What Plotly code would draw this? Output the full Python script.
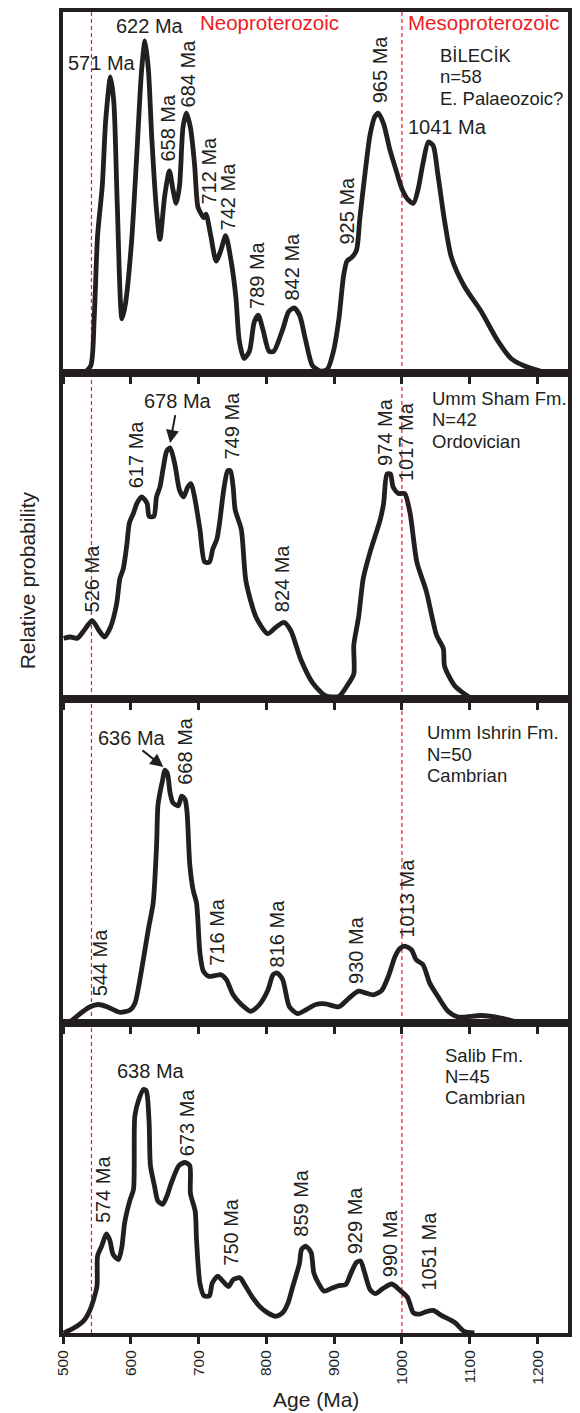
import plotly.graph_objects as go

# ---------------- data ----------------
AGE_TICKS = [500, 600, 700, 800, 900, 1000, 1100, 1200]
BOUNDARIES = [542, 1000]

# Panel 1: BİLECİK
p1_age = [531,541,546,551,558,563,570,575,580,587,592,601,609,616,621,626,631,638,643,650,657,662,667,672,677,682,688,694,699,704,708,711,718,726,733,740,748,755,760,767,775,782,788,795,804,811,824,833,841,849,858,868,880,890,899,907,914,919,926,933,938,946,953,960,965,973,982,990,1000,1009,1017,1024,1031,1039,1046,1053,1063,1073,1092,1117,1141,1161,1180,1210]
p1_prob = [0,0.02,0.15,0.38,0.52,0.70,0.82,0.75,0.47,0.15,0.19,0.36,0.61,0.84,0.92,0.84,0.65,0.45,0.37,0.49,0.56,0.51,0.47,0.52,0.68,0.72,0.68,0.58,0.46,0.44,0.43,0.44,0.38,0.31,0.34,0.38,0.31,0.21,0.09,0.04,0.06,0.14,0.16,0.12,0.06,0.06,0.12,0.17,0.18,0.16,0.09,0.02,0.005,0.01,0.06,0.15,0.27,0.31,0.32,0.34,0.43,0.56,0.66,0.71,0.72,0.69,0.62,0.57,0.51,0.48,0.47,0.51,0.58,0.64,0.63,0.55,0.42,0.32,0.24,0.17,0.09,0.04,0.02,0.002]

# Panel 2: Umm Sham Fm.
p2_age = [501,511,521,531,543,553,561,570,579,584,589,594,598,604,609,616,624,627,634,638,643,648,653,658,665,672,678,684,689,694,702,709,716,721,727,731,737,743,747,751,754,763,770,785,802,814,826,836,851,868,887,907,919,929,929,936,943,953,968,973,978,983,987,995,1004,1012,1022,1036,1051,1061,1063,1078,1100,1107]
p2_prob = [0.186,0.19,0.186,0.21,0.24,0.21,0.19,0.22,0.29,0.37,0.40,0.47,0.54,0.57,0.60,0.62,0.60,0.56,0.56,0.62,0.65,0.71,0.76,0.77,0.72,0.64,0.62,0.65,0.66,0.62,0.52,0.42,0.42,0.46,0.49,0.54,0.64,0.70,0.70,0.65,0.58,0.52,0.36,0.25,0.20,0.22,0.235,0.21,0.12,0.05,0.01,0.008,0.04,0.077,0.165,0.25,0.37,0.45,0.55,0.60,0.69,0.69,0.65,0.63,0.63,0.57,0.42,0.33,0.196,0.155,0.10,0.04,0.005,0]

# Panel 3: Umm Ishrin Fm.
p3_age = [503,511,526,540,552,565,584,599,606,616,626,633,638,640,643,647,650,654,658,662,670,675,680,683,687,692,697,702,707,715,724,733,741,751,763,777,790,802,810,816,824,834,846,858,873,887,907,922,936,946,958,970,980,990,997,1004,1014,1021,1031,1041,1053,1068,1083,1117,1146,1175]
p3_prob = [0,0.005,0.03,0.05,0.057,0.05,0.033,0.04,0.06,0.165,0.29,0.37,0.545,0.67,0.71,0.75,0.78,0.77,0.71,0.68,0.67,0.70,0.69,0.65,0.49,0.41,0.37,0.216,0.16,0.144,0.146,0.149,0.134,0.087,0.057,0.036,0.057,0.10,0.149,0.154,0.134,0.05,0.029,0.04,0.057,0.059,0.05,0.077,0.098,0.093,0.087,0.10,0.144,0.206,0.23,0.237,0.226,0.195,0.18,0.123,0.082,0.036,0.0185,0.023,0.015,0]

# Panel 4: Salib Fm.
p4_age = [501,516,530,540,550,551,557,564,569,574,582,587,591,599,604,606,612,619,623,627,629,635,640,647,653,660,671,680,687,688,695,697,702,708,716,720,728,734,744,751,761,768,778,790,802,814,824,832,839,849,852,858,866,870,877,885,897,907,917,925,933,939,945,953,961,973,985,997,1008,1017,1026,1036,1046,1058,1078,1092,1107]
p4_prob = [0,0.016,0.038,0.075,0.15,0.248,0.28,0.32,0.30,0.253,0.237,0.28,0.356,0.43,0.463,0.70,0.754,0.786,0.78,0.68,0.54,0.474,0.426,0.415,0.44,0.485,0.54,0.55,0.54,0.45,0.393,0.30,0.16,0.12,0.12,0.16,0.183,0.172,0.15,0.172,0.178,0.156,0.12,0.086,0.065,0.054,0.065,0.097,0.15,0.226,0.27,0.28,0.26,0.194,0.16,0.135,0.145,0.153,0.156,0.194,0.228,0.232,0.194,0.14,0.127,0.145,0.158,0.138,0.116,0.065,0.061,0.069,0.073,0.057,0.034,0.005,0]

# Peak labels (vertical)
p1_vlab = ["658 Ma", "684 Ma", "712 Ma", "742 Ma", "789 Ma", "842 Ma", "925 Ma", "965 Ma"]
p1_vlab_x = [655, 684.5, 715, 744, 787, 838, 919, 967]
p1_vlab_y = [0.68, 0.83, 0.56, 0.49, 0.27, 0.295, 0.45, 0.84]
# Peak labels (horizontal)
p1_hlab = ["571 Ma", "622 Ma", "1041 Ma"]
p1_hlab_x = [557, 628, 1067]
p1_hlab_y = [0.86, 0.96, 0.68]

p2_vlab = ["526 Ma", "617 Ma", "749 Ma", "824 Ma", "974 Ma", "1017 Ma"]
p2_vlab_x = [543, 609, 750, 823, 974, 1007]
p2_vlab_y = [0.37, 0.75, 0.84, 0.37, 0.82, 0.79]
p2_hlab = ["678 Ma"]
p2_hlab_x = [669]
p2_hlab_y = [0.915]

p3_vlab = ["544 Ma", "668 Ma", "716 Ma", "816 Ma", "930 Ma", "1013 Ma"]
p3_vlab_x = [555, 680, 728, 816, 933, 1007]
p3_vlab_y = [0.188, 0.84, 0.28, 0.277, 0.224, 0.386]
p3_hlab = ["636 Ma"]
p3_hlab_x = [602.5]
p3_hlab_y = [0.88]

p4_vlab = ["574 Ma", "673 Ma", "750 Ma", "859 Ma", "929 Ma", "990 Ma", "1051 Ma"]
p4_vlab_x = [560, 683, 748, 851, 931, 982.5, 1040]
p4_vlab_y = [0.463, 0.68, 0.327, 0.42, 0.364, 0.29, 0.263]
p4_hlab = ["638 Ma"]
p4_hlab_x = [630]
p4_hlab_y = [0.846]

# Sample info
p1_info = ["BİLECİK", "n=58", "E. Palaeozoic?"]
p2_info = ["Umm Sham Fm.", "N=42", "Ordovician"]
p3_info = ["Umm Ishrin Fm.", "N=50", "Cambrian"]
p4_info = ["Salib Fm.", "N=45", "Cambrian"]
info_x = [1053, 1041, 1034, 1061]
info_y = [[0.88, 0.82, 0.76], [0.92, 0.856, 0.79], [0.895, 0.83, 0.764], [0.894, 0.828, 0.758]]

era_labels = ["Neoproterozoic", "Mesoproterozoic"]
era_x = [805, 1121]
era_y = [0.97, 0.97]

# arrows (head age, head prob, tail age, tail prob)
p2_arrow = [658, 0.785, 666, 0.875]
p3_arrow = [648, 0.79, 615, 0.845]

# ---------------- figure ----------------
INK = "#231f20"
RED = "#ed1c24"
FONT = "Liberation Sans, Arial, sans-serif"

domains = [[0.7268, 1.0], [0.48, 0.7268], [0.2347, 0.48], [0.0, 0.2347]]
ages = [p1_age, p2_age, p3_age, p4_age]
probs = [p1_prob, p2_prob, p3_prob, p4_prob]
vlabs = [(p1_vlab, p1_vlab_x, p1_vlab_y), (p2_vlab, p2_vlab_x, p2_vlab_y),
         (p3_vlab, p3_vlab_x, p3_vlab_y), (p4_vlab, p4_vlab_x, p4_vlab_y)]
hlabs = [(p1_hlab, p1_hlab_x, p1_hlab_y), (p2_hlab, p2_hlab_x, p2_hlab_y),
         (p3_hlab, p3_hlab_x, p3_hlab_y), (p4_hlab, p4_hlab_x, p4_hlab_y)]
infos = [p1_info, p2_info, p3_info, p4_info]

fig = go.Figure()
annotations = []
shapes = []
layout = {}

for i in range(4):
    n = i + 1
    xs = "x" if n == 1 else f"x{n}"
    ys = "y" if n == 1 else f"y{n}"
    fig.add_trace(go.Scatter(
        x=ages[i], y=probs[i], mode="lines", xaxis=xs, yaxis=ys,
        line=dict(color=INK, width=4.8, shape="spline", smoothing=0.7),
        showlegend=False, hoverinfo="skip"))
    layout[f"xaxis{'' if n == 1 else n}"] = dict(
        domain=[0, 1], anchor=ys, range=[500, 1245], showline=True, mirror=True,
        linewidth=4, linecolor=INK, ticks="outside", ticklen=7, tickwidth=2.5,
        tickcolor=INK, tickvals=AGE_TICKS, showticklabels=(n == 4), tickangle=-90,
        tickfont=dict(size=15.5, color=INK, family=FONT), showgrid=False, zeroline=False)
    layout[f"yaxis{'' if n == 1 else n}"] = dict(
        domain=domains[i], anchor=xs, range=[0, 1], showline=True, mirror=True,
        linewidth=4, linecolor=INK, ticks="", showticklabels=False,
        showgrid=False, zeroline=False)
    for b in BOUNDARIES:
        shapes.append(dict(type="line", xref=xs, yref=f"{ys} domain", x0=b, x1=b, y0=0, y1=1,
                           line=dict(color=RED, width=1.2, dash="4px,3px"), layer="below"))
    t, lx, ly = vlabs[i]
    for s, a, p in zip(t, lx, ly):
        annotations.append(dict(text=s, x=a, y=p, xref=xs, yref=ys, showarrow=False,
                                textangle=-90, xanchor="center", yanchor="middle",
                                font=dict(size=20, color=INK, family=FONT)))
    t, lx, ly = hlabs[i]
    for s, a, p in zip(t, lx, ly):
        annotations.append(dict(text=s, x=a, y=p, xref=xs, yref=ys, showarrow=False,
                                xanchor="center", yanchor="middle",
                                font=dict(size=20, color=INK, family=FONT)))
    for s, p in zip(infos[i], info_y[i]):
        annotations.append(dict(text=s, x=info_x[i], y=p, xref=xs, yref=ys, showarrow=False,
                                xanchor="left", yanchor="middle",
                                font=dict(size=18.5, color=INK, family=FONT)))

for s, a, p in zip(era_labels, era_x, era_y):
    annotations.append(dict(text=s, x=a, y=p, xref="x", yref="y", showarrow=False,
                            xanchor="center", yanchor="middle",
                            font=dict(size=20.5, color=RED, family=FONT)))

for arr, xs, ys in [(p2_arrow, "x2", "y2"), (p3_arrow, "x3", "y3")]:
    annotations.append(dict(text="", x=arr[0], y=arr[1], ax=arr[2], ay=arr[3],
                            xref=xs, yref=ys, axref=xs, ayref=ys, showarrow=True,
                            arrowhead=2, arrowsize=1.3, arrowwidth=2, arrowcolor=INK))

annotations.append(dict(text="Relative probability", x=-0.0707, y=0.57, xref="paper", yref="paper",
                        showarrow=False, textangle=-90, xanchor="center", yanchor="middle",
                        font=dict(size=21, color=INK, family=FONT)))
annotations.append(dict(text="Age (Ma)", x=0.501, y=-0.0506, xref="paper", yref="paper",
                        showarrow=False, xanchor="center", yanchor="middle",
                        font=dict(size=21, color=INK, family=FONT)))

fig.update_layout(**layout)
fig.update_layout(
    width=580, height=1413, autosize=False,
    margin=dict(l=63, r=8, t=8, b=80),
    paper_bgcolor="white", plot_bgcolor="white",
    annotations=annotations, shapes=shapes,
    font=dict(family=FONT, color=INK),
)

fig.write_html("out.html", config={"displayModeBar": False},
               post_script="document.body.style.margin='0';document.body.style.padding='0';document.body.style.overflow='hidden';")
